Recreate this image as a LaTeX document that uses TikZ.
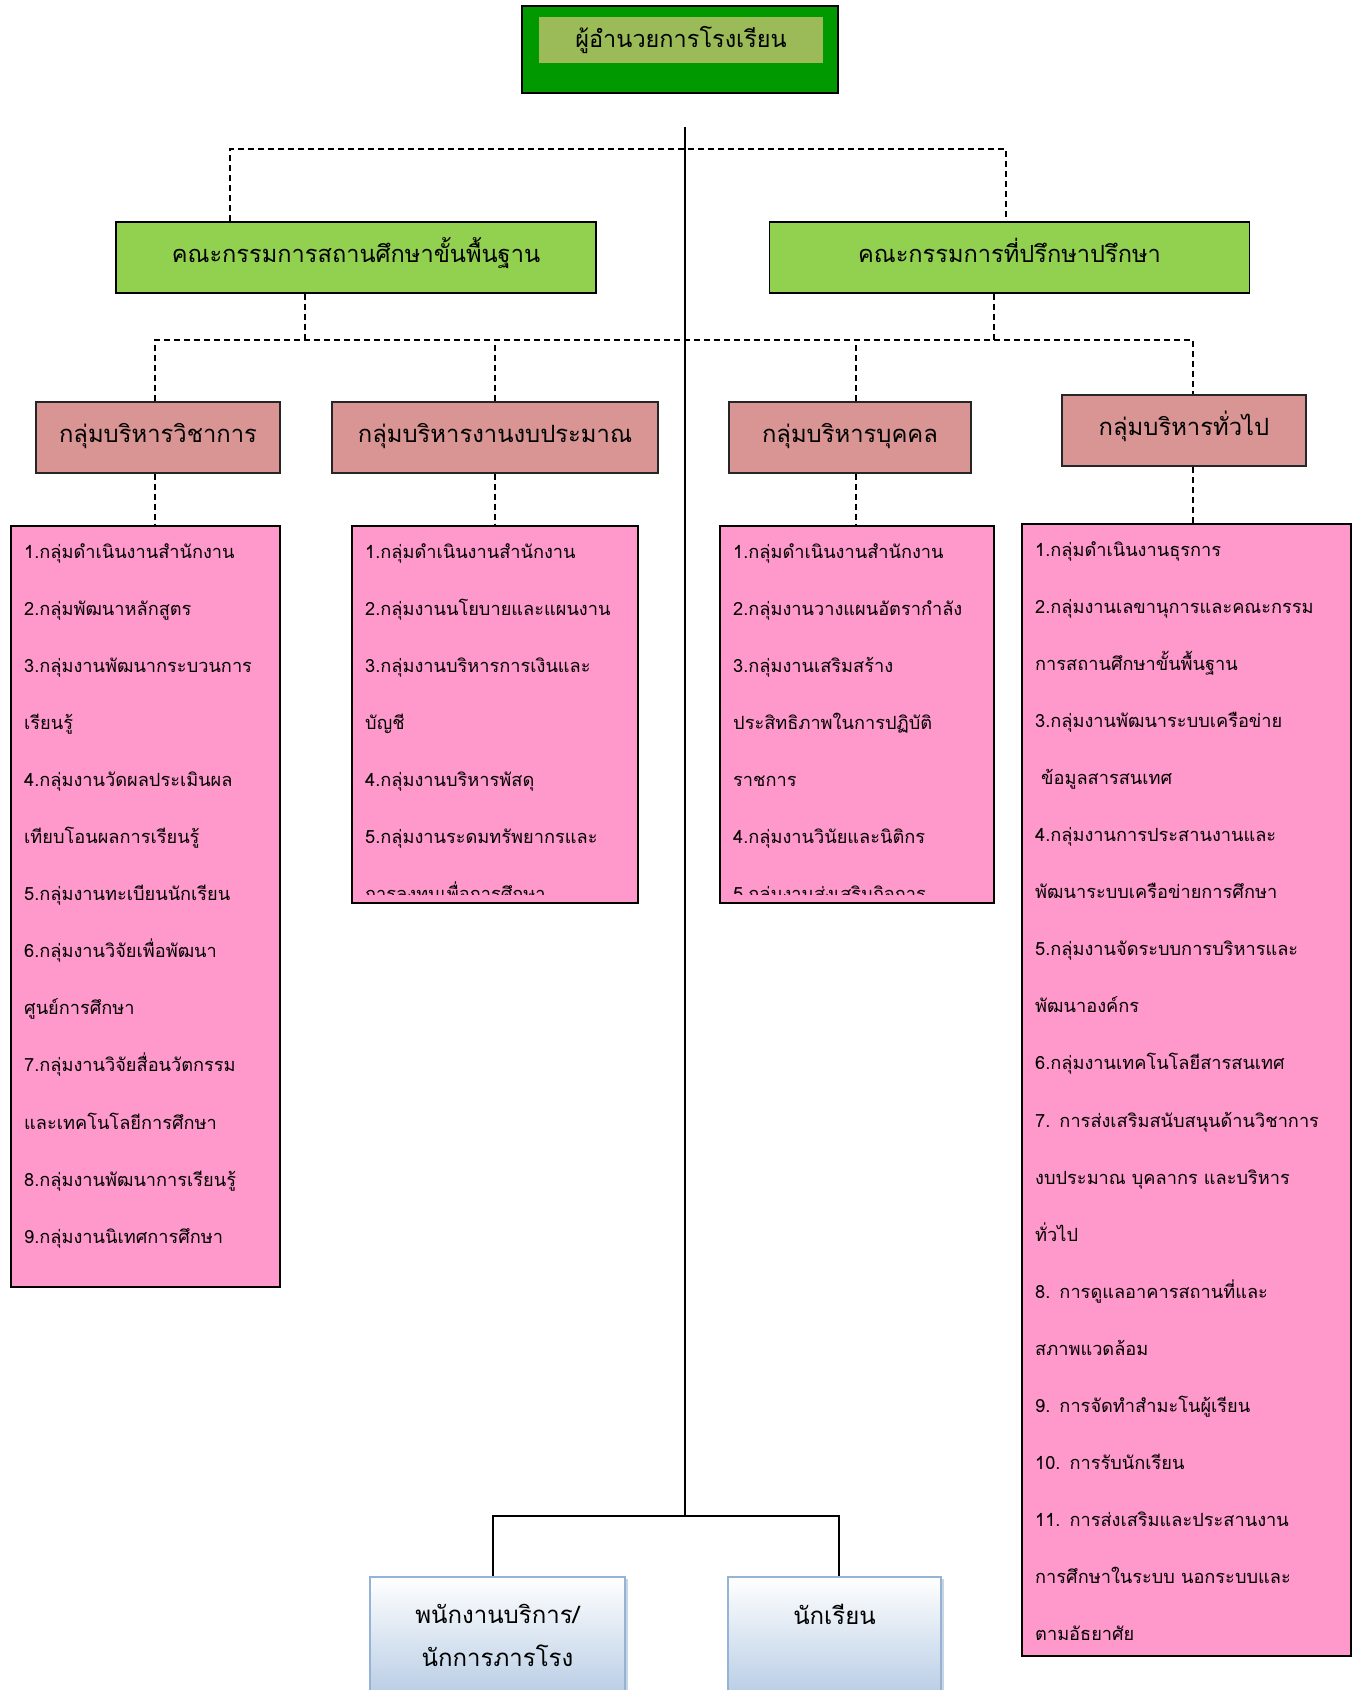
\documentclass[tikz,border=0pt]{standalone}
\usepackage{fontspec}
\setmainfont[Script=Thai]{Loma}
\usetikzlibrary{positioning,shadows}
\definecolor{G}{RGB}{0,153,0}
\definecolor{O}{RGB}{155,187,89}
\definecolor{L}{RGB}{146,208,80}
\definecolor{R}{RGB}{217,149,148}
\definecolor{P}{RGB}{255,153,204}
\definecolor{S}{RGB}{185,205,229}
\definecolor{E}{RGB}{149,179,215}
\tikzstyle{chief} = [rectangle, draw=black, line width=1.5pt, fill=G,
minimum width=316pt, minimum height=87pt]
\tikzstyle{chiefname} = [rectangle, fill=O, minimum width=284pt,
minimum height=46pt, font=\fontsize{23.5}{30}\selectfont]
\tikzstyle{board} = [rectangle, draw=black, line width=1.2pt, fill=L,
minimum width=480pt, minimum height=71pt, text height=18pt, text depth=8pt,
font=\fontsize{23.6}{30}\selectfont]
\tikzstyle{sect} = [rectangle, draw=black!85, line width=1.2pt, fill=R,
minimum height=71pt, text height=18pt, text depth=8pt,
font=\fontsize{23.8}{30}\selectfont]
\tikzstyle{duty} = [rectangle, draw=black, line width=1.2pt, fill=P]
\tikzstyle{items} = [anchor=base west, inner sep=0pt, align=left,
text width=400pt, font=\fontsize{18.2}{57.1}\selectfont]
\tikzstyle{staff} = [rectangle, draw=E, line width=1.5pt, top color=white,
bottom color=S, align=center, minimum height=118pt, anchor=north,
drop shadow={shadow xshift=3pt, shadow yshift=-2pt, fill=E!80!gray},
font=\fontsize{24}{43}\selectfont]
\tikzstyle{link} = [line width=1.5pt]
\tikzstyle{dashlink} = [line width=1.5pt, dash pattern=on 6pt off 4pt]

\begin{document}
\begin{tikzpicture}[x=1pt, y=-1pt]
  \useasboundingbox (0,0) rectangle (1353,1690);

  % director
  \node[chief]     (chief) at (680,49.5) {};
  \node[chiefname] (name)  at (681,40)   {ผู้อำนวยการโรงเรียน};

  % boards
  \node[board] (k1) at (356,257.5)  {คณะกรรมการสถานศึกษาขั้นพื้นฐาน};
  \node[board] (k2) at (1009.5,257.5) {คณะกรรมการที่ปรึกษาปรึกษา};

  % the four groups
  \node[sect, minimum width=244pt] (ga) at (158,437.5)  {กลุ่มบริหารวิชาการ};
  \node[sect, minimum width=326pt] (gb) at (495,437.5)  {กลุ่มบริหารงานงบประมาณ};
  \node[sect, minimum width=242pt] (gc) at (850,437.5)  {กลุ่มบริหารบุคคล};
  \node[sect, minimum width=244pt] (gd) at (1184,430.5) {กลุ่มบริหารทั่วไป};

  % duty boxes
  \node[duty, minimum width=269pt, minimum height=761pt]  (la) at (145.5,906.5) {};
  \node[duty, minimum width=286pt, minimum height=377pt]  (lb) at (495,714.5)   {};
  \node[duty, minimum width=274pt, minimum height=377pt]  (lc) at (857,714.5)   {};
  \node[duty, minimum width=329pt, minimum height=1132pt] (ld) at (1186.5,1090) {};

  \node[items] (ta) at (24,558) {1.กลุ่มดำเนินงานสำนักงาน\\2.กลุ่มพัฒนาหลักสูตร\\
    3.กลุ่มงานพัฒนากระบวนการ\\เรียนรู้\\4.กลุ่มงานวัดผลประเมินผล\\
    เทียบโอนผลการเรียนรู้\\5.กลุ่มงานทะเบียนนักเรียน\\6.กลุ่มงานวิจัยเพื่อพัฒนา\\
    ศูนย์การศึกษา\\7.กลุ่มงานวิจัยสื่อนวัตกรรม\\และเทคโนโลยีการศึกษา\\
    8.กลุ่มงานพัฒนาการเรียนรู้\\9.กลุ่มงานนิเทศการศึกษา};
  \begin{scope}
    \clip (lb.north west) rectangle ([yshift=9pt]lb.south east);
    \node[items] (tb) at (365,558) {1.กลุ่มดำเนินงานสำนักงาน\\2.กลุ่มงานนโยบายและแผนงาน\\
      3.กลุ่มงานบริหารการเงินและ\\บัญชี\\4.กลุ่มงานบริหารพัสดุ\\
      5.กลุ่มงานระดมทรัพยากรและ\\การลงทุนเพื่อการศึกษา};
  \end{scope}
  \begin{scope}
    \clip (lc.north west) rectangle ([yshift=9pt]lc.south east);
    \node[items] (tc) at (733,558) {1.กลุ่มดำเนินงานสำนักงาน\\2.กลุ่มงานวางแผนอัตรากำลัง\\
      3.กลุ่มงานเสริมสร้าง\\ประสิทธิภาพในการปฏิบัติ\\ราชการ\\
      4.กลุ่มงานวินัยและนิติกร\\5.กลุ่มงานส่งเสริมกิจการ};
  \end{scope}
  \node[items] (td) at (1035,556) {1.กลุ่มดำเนินงานธุรการ\\2.กลุ่มงานเลขานุการและคณะกรรม\\
    การสถานศึกษาขั้นพื้นฐาน\\3.กลุ่มงานพัฒนาระบบเครือข่าย\\\hspace*{6pt}ข้อมูลสารสนเทศ\\
    4.กลุ่มงานการประสานงานและ\\พัฒนาระบบเครือข่ายการศึกษา\\
    5.กลุ่มงานจัดระบบการบริหารและ\\พัฒนาองค์กร\\6.กลุ่มงานเทคโนโลยีสารสนเทศ\\
    7. การส่งเสริมสนับสนุนด้านวิชาการ\\งบประมาณ บุคลากร และบริหาร\\ทั่วไป\\
    8. การดูแลอาคารสถานที่และ\\สภาพแวดล้อม\\9. การจัดทำสำมะโนผู้เรียน\\
    10. การรับนักเรียน\\11. การส่งเสริมและประสานงาน\\การศึกษาในระบบ นอกระบบและ\\
    ตามอัธยาศัย};

  % staff and students
  \node[staff, minimum width=255pt] (sa) at (497.5,1576) {พนักงานบริการ/\\นักการภารโรง};
  \node[staff, minimum width=213pt] (sb) at (834.5,1576) {นักเรียน\\~};

  % dashed lines of command
  \coordinate (tl) at (230,149);
  \coordinate (tr) at (1006,149);
  \coordinate (ml) at (305,340);
  \coordinate (mr) at (994,340);
  \coordinate (ax) at (155,340);
  \coordinate (cx) at (856,340);
  \coordinate (dx) at (1193,340);
  \draw[dashlink] (k1.north -| tl) -- (tl) -- (tr) -- (k2.north -| tr);
  \draw[dashlink] (k1.south -| ml) -- (ml);
  \draw[dashlink] (k2.south -| mr) -- (mr);
  \draw[dashlink] (ga.north -| ax) -- (ax) -- (dx) -- (gd.north -| dx);
  \draw[dashlink] (gb.north) -- (gb.north |- ml);
  \draw[dashlink] (gc.north -| cx) -- (cx);
  \draw[dashlink] (ga.south -| ax) -- (la.north -| ax);
  \draw[dashlink] (gb.south) -- (gb.south |- lb.north);
  \draw[dashlink] (gc.south -| cx) -- (lc.north -| cx);
  \draw[dashlink] (gd.south -| dx) -- (ld.north -| dx);

  % solid trunk
  \coordinate (trunk) at (685,127);
  \coordinate (hub)   at (685,1516);
  \draw[link] (trunk) -- (hub);
  \draw[link] ([xshift=-4.5pt]sa.north) |- (hub) -| ([xshift=4.5pt]sb.north);
\end{tikzpicture}
\end{document}
